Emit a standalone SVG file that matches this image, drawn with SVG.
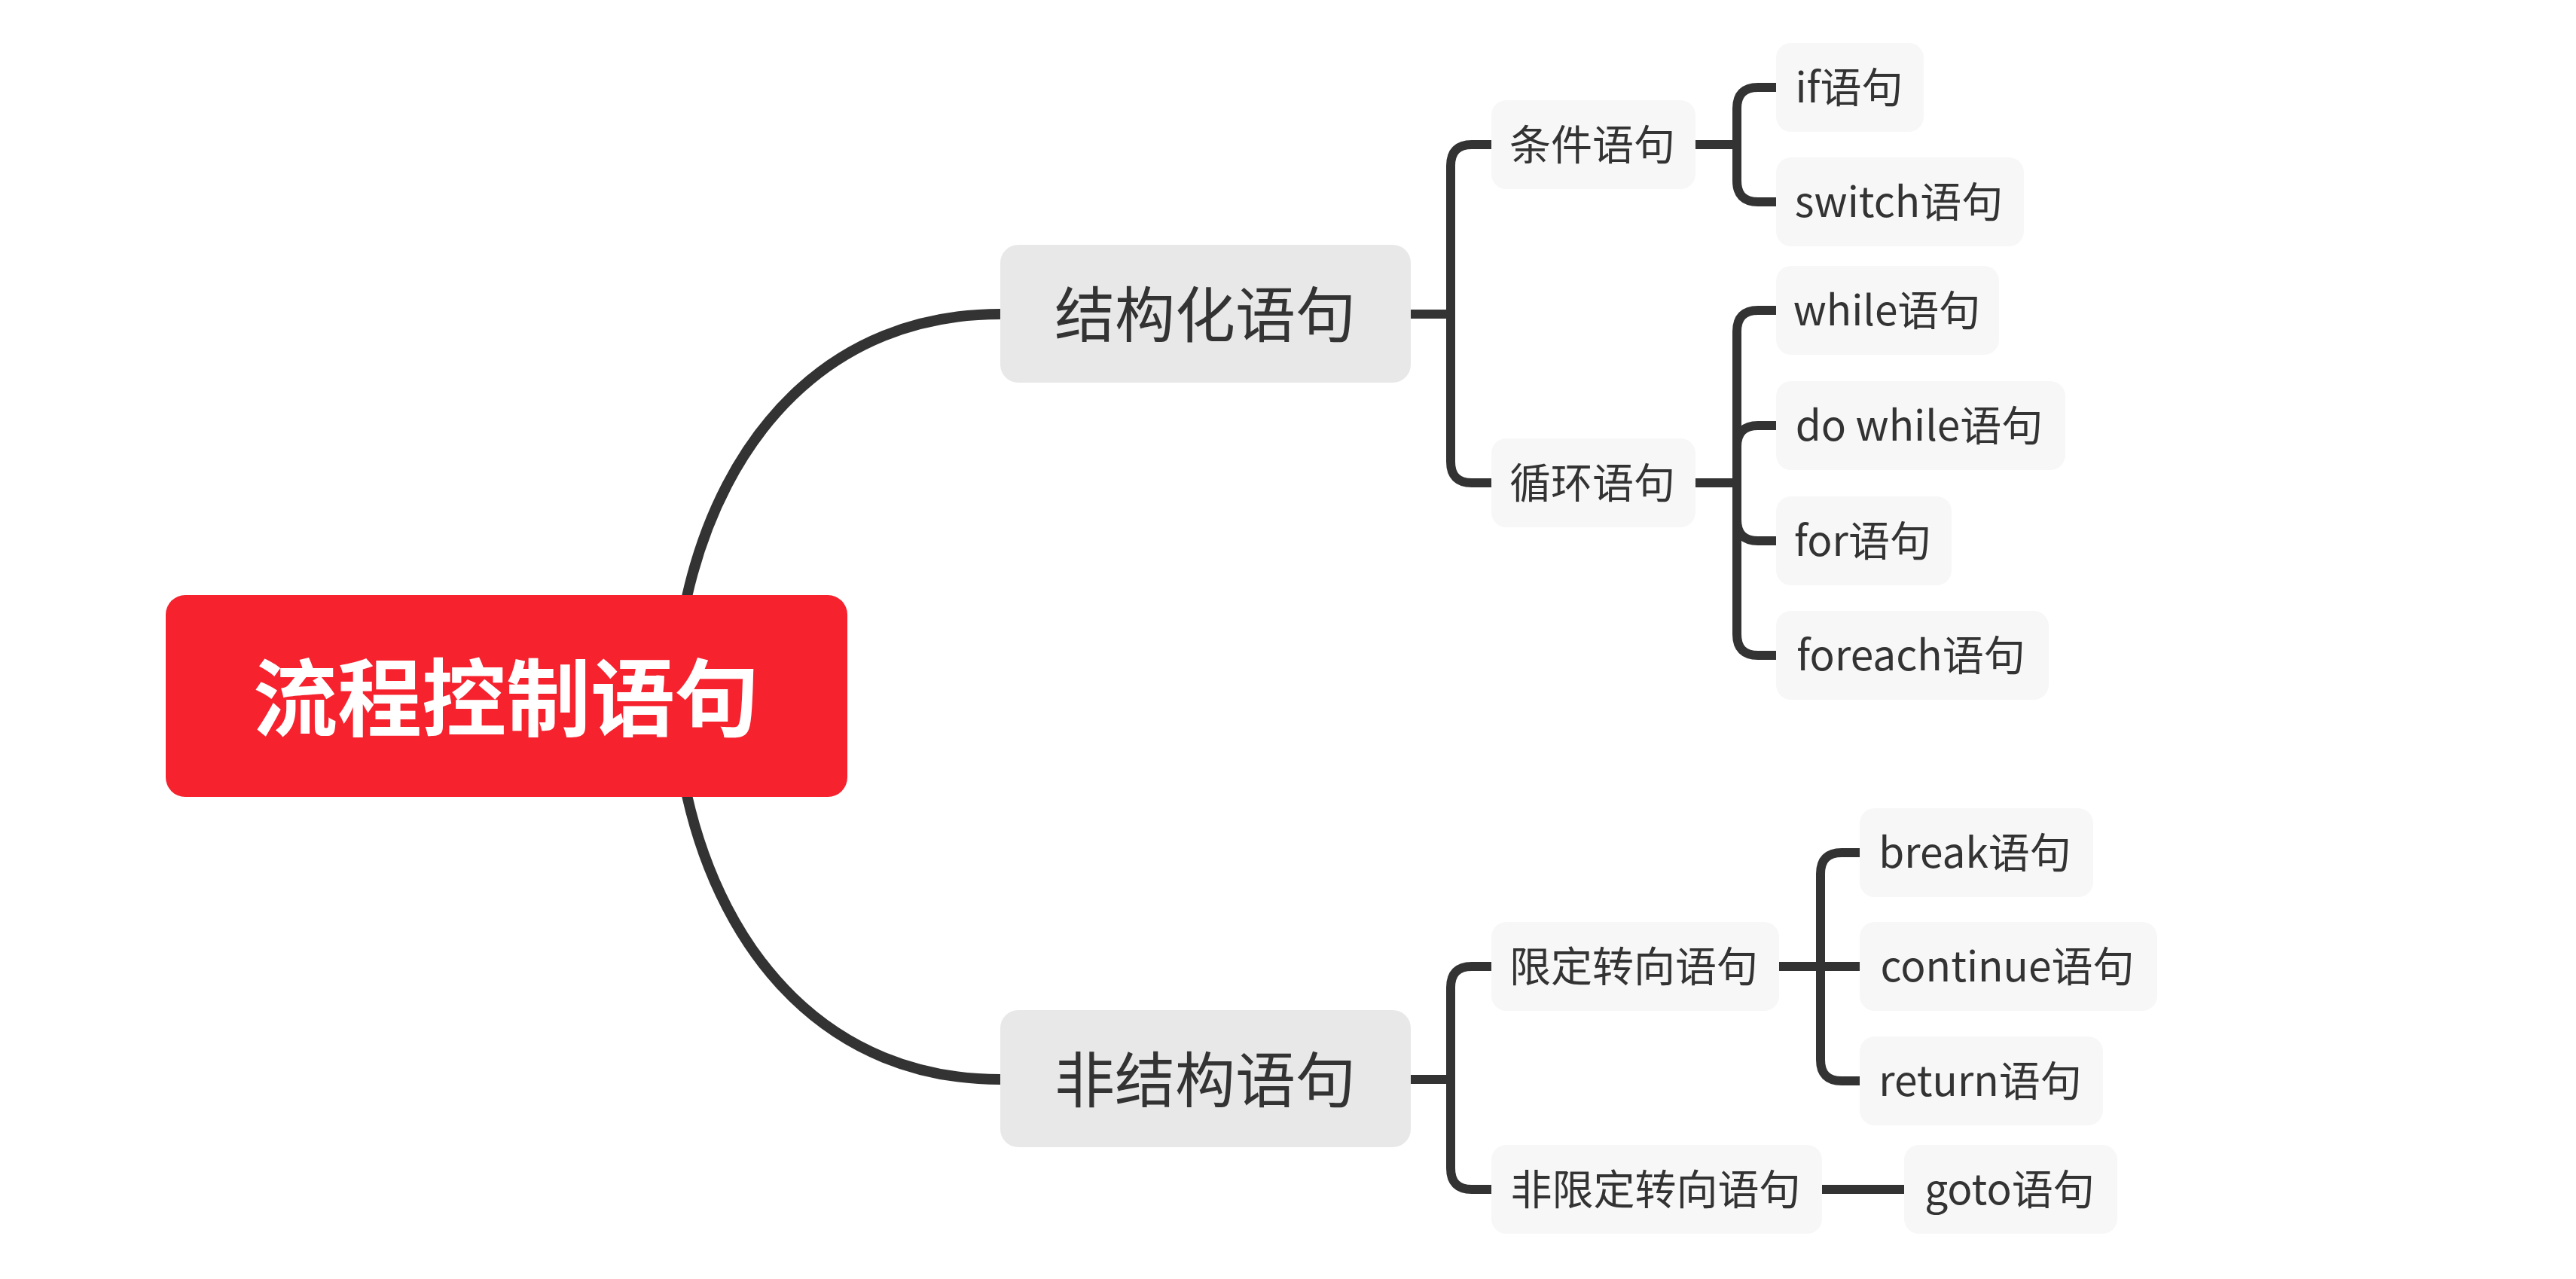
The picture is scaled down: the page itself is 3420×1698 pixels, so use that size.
<svg xmlns="http://www.w3.org/2000/svg" width="3420" height="1698" viewBox="0 0 3420 1698">
<style>
.bg{fill:#ffffff}
.ln{fill:none;stroke:#333333;stroke-width:12;stroke-linecap:butt;stroke-linejoin:round}
.main{fill:none;stroke:#333333;stroke-width:14}
.root{fill:#f6222e}
.l1{fill:#e8e8e8}
.l2{fill:#f7f7f7}
.t{font-family:"Noto Sans CJK SC","Noto Sans",sans-serif;fill:#333333;text-anchor:middle;dominant-baseline:central}
.rt{font-family:"Noto Sans CJK SC","Noto Sans",sans-serif;fill:#ffffff;font-weight:bold;font-size:112px;text-anchor:middle;dominant-baseline:central}
.f1{font-size:80px}
.f2{font-size:55px}
</style>
<rect class="bg" x="0" y="0" width="3420" height="1698"/>
<g id="connectors">
<path class="main" d="M912 792 C960 580 1100 417 1328 417"/>
<path class="main" d="M912 1056 C960 1268 1100 1433 1328 1433"/>
<path class="ln" d="M1873 417 H1926"/>
<path class="ln" d="M1926 417 V220 Q1926 192 1954 192 H1980"/>
<path class="ln" d="M1926 417 V613 Q1926 641 1954 641 H1980"/>
<path class="ln" d="M2251 192 H2306"/>
<path class="ln" d="M2306 192 V144 Q2306 116 2334 116 H2358"/>
<path class="ln" d="M2306 192 V240 Q2306 268 2334 268 H2358"/>
<path class="ln" d="M2251 641 H2306"/>
<path class="ln" d="M2306 641 V440 Q2306 412 2334 412 H2358"/>
<path class="ln" d="M2306 641 V593 Q2306 565 2334 565 H2358"/>
<path class="ln" d="M2306 641 V690 Q2306 718 2334 718 H2358"/>
<path class="ln" d="M2306 641 V842 Q2306 870 2334 870 H2358"/>
<path class="ln" d="M1873 1433 H1926"/>
<path class="ln" d="M1926 1433 V1311 Q1926 1283 1954 1283 H1980"/>
<path class="ln" d="M1926 1433 V1551 Q1926 1579 1954 1579 H1980"/>
<path class="ln" d="M2362 1283 H2417"/>
<path class="ln" d="M2417 1283 V1160 Q2417 1132 2445 1132 H2469"/>
<path class="ln" d="M2417 1283 H2469"/>
<path class="ln" d="M2417 1283 V1407 Q2417 1435 2445 1435 H2469"/>
<path class="ln" d="M2419 1579 H2528"/>
</g>
<g id="root"><rect class="root" x="220" y="790" width="905" height="268" rx="26"/><text class="rt" x="672" y="920">流程控制语句</text></g>
<g id="n-structured"><rect class="l1" x="1328" y="325" width="545" height="183" rx="24"/><text class="t f1" x="1600" y="412">结构化语句</text></g>
<g id="n-unstructured"><rect class="l1" x="1328" y="1341" width="545" height="182" rx="24"/><text class="t f1" x="1600" y="1428">非结构语句</text></g>
<g id="n-cond"><rect class="l2" x="1980" y="133" width="271" height="118" rx="20"/><text class="t f2" x="2114" y="188">条件语句</text></g>
<g id="n-loop"><rect class="l2" x="1980" y="582" width="271" height="118" rx="20"/><text class="t f2" x="2114" y="637">循环语句</text></g>
<g id="n-limited"><rect class="l2" x="1980" y="1224" width="382" height="118" rx="20"/><text class="t f2" x="2169" y="1279">限定转向语句</text></g>
<g id="n-unlimited"><rect class="l2" x="1980" y="1520" width="439" height="118" rx="20"/><text class="t f2" x="2198" y="1575">非限定转向语句</text></g>
<g id="n-if"><rect class="l2" x="2358" y="57" width="196" height="118" rx="20"/><text class="t f2" x="2455" y="112">if语句</text></g>
<g id="n-switch"><rect class="l2" x="2358" y="209" width="329" height="118" rx="20"/><text class="t f2" x="2521" y="264">switch语句</text></g>
<g id="n-while"><rect class="l2" x="2358" y="353" width="296" height="118" rx="20"/><text class="t f2" x="2505" y="408">while语句</text></g>
<g id="n-dowhile"><rect class="l2" x="2358" y="506" width="384" height="118" rx="20"/><text class="t f2" x="2548" y="561">do while语句</text></g>
<g id="n-for"><rect class="l2" x="2358" y="659" width="233" height="118" rx="20"/><text class="t f2" x="2473" y="714">for语句</text></g>
<g id="n-foreach"><rect class="l2" x="2358" y="811" width="362" height="118" rx="20"/><text class="t f2" x="2537" y="866">foreach语句</text></g>
<g id="n-break"><rect class="l2" x="2469" y="1073" width="310" height="118" rx="20"/><text class="t f2" x="2622" y="1128">break语句</text></g>
<g id="n-continue"><rect class="l2" x="2469" y="1224" width="395" height="118" rx="20"/><text class="t f2" x="2665" y="1279">continue语句</text></g>
<g id="n-return"><rect class="l2" x="2469" y="1376" width="323" height="118" rx="20"/><text class="t f2" x="2629" y="1431">return语句</text></g>
<g id="n-goto"><rect class="l2" x="2528" y="1520" width="283" height="118" rx="20"/><text class="t f2" x="2668" y="1575">goto语句</text></g>
</svg>
